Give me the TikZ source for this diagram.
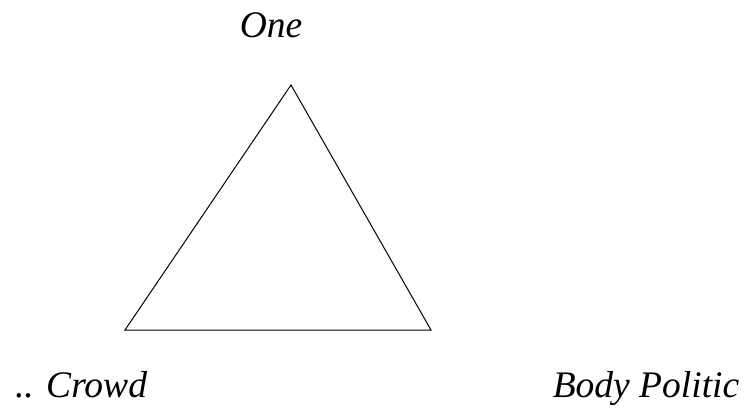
\documentclass[tikz,border=0pt]{standalone}
\usepackage{fontspec}
\setmainfont{Liberation Serif}
\tikzset{lbl/.style={font=\fontsize{37.5}{44}\selectfont\itshape, anchor=base, inner sep=0pt},
         tri/.style={draw=black, line width=1pt}}
\begin{document}
\begin{tikzpicture}[x=1pt,y=-1pt]
\useasboundingbox (0,0) rectangle (746,415);
\coordinate (apex) at (291,85);
\coordinate (bl) at (125,330);
\coordinate (br) at (431,330);
\draw[tri] (apex) -- (bl) -- (br) -- cycle;
\node[lbl] (one) at (271,37) {One};
\node[lbl] (crowd) at (81,397) {.. Crowd};
\node[lbl] (body) at (646,397) {Body Politic};
\end{tikzpicture}
\end{document}
